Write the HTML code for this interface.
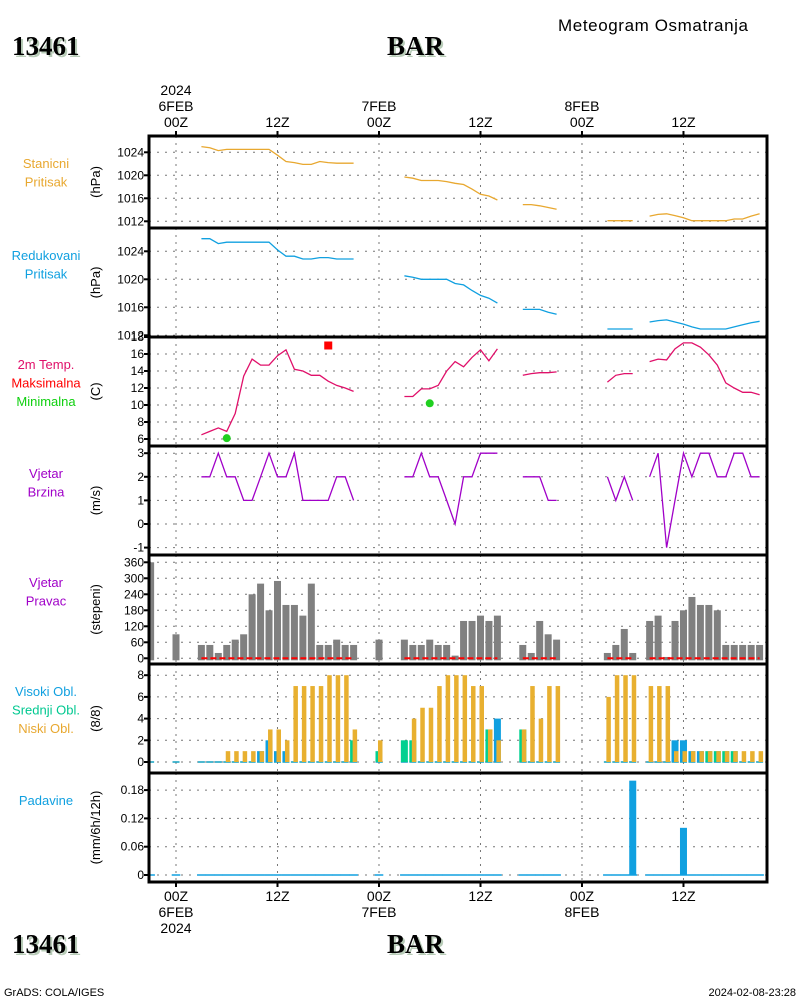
<!DOCTYPE html>
<html><head><meta charset="utf-8"><style>
body{margin:0;background:#fff;width:800px;height:1000px;overflow:hidden}
svg{font-family:"Liberation Sans",sans-serif}
</style></head><body>
<svg id="chart" width="800" height="1000" xmlns="http://www.w3.org/2000/svg">
<rect width="800" height="1000" fill="#fff"/>
<text x="558" y="31" font-size="17" fill="#000" letter-spacing="0.6">Meteogram Osmatranja</text>
<g style="font-family:'Liberation Serif',serif;font-weight:bold;font-size:27px">
<text x="14" y="57" fill="#b8ccb8">13461</text><text x="12" y="55" fill="#000">13461</text>
<text x="389" y="57" fill="#b8ccb8">BAR</text><text x="387" y="55" fill="#000">BAR</text></g>
<g style="font-family:'Liberation Serif',serif;font-weight:bold;font-size:27px">
<text x="14" y="955" fill="#b8ccb8">13461</text><text x="12" y="953" fill="#000">13461</text>
<text x="389" y="955" fill="#b8ccb8">BAR</text><text x="387" y="953" fill="#000">BAR</text></g>
<text x="4" y="996" font-size="11">GrADS: COLA/IGES</text>
<text x="796" y="996" font-size="11" text-anchor="end">2024-02-08-23:28</text>
<g id="layer"></g>
</svg>
<script>
const hours=[-3,0,3,4,5,6,7,8,9,10,11,12,13,14,15,16,17,18,19,20,21,24,27,28,29,30,31,32,33,34,35,36,37,38,41,42,43,44,45,51,52,53,54,56,57,58,59,60,61,62,63,64,65,66,67,68,69];
const n=null;
const stnPres=[n,n,1025.0,1024.8,1024.3,1024.5,1024.5,1024.5,1024.5,1024.5,1024.5,1023.5,1022.4,1022.2,1021.9,1021.9,1022.4,1022.2,1022.1,1022.1,1022.1,n,1019.7,1019.5,1019.1,1019.1,1019.1,1018.9,1018.6,1018.4,1017.6,1016.7,1016.4,1015.7,1014.9,1014.9,1014.7,1014.4,1014.1,1012.1,1012.1,1012.1,1012.1,1012.9,1013.2,1013.3,1013.0,1012.6,1012.1,1012.1,1012.1,1012.1,1012.1,1012.4,1012.4,1012.9,1013.3];
const redPres=[n,n,1025.8,1025.8,1025.1,1025.3,1025.3,1025.3,1025.3,1025.3,1025.3,1024.2,1023.3,1023.3,1022.9,1022.9,1023.1,1023.1,1022.9,1022.9,1022.9,n,1020.5,1020.3,1020.0,1020.0,1020.0,1020.0,1019.4,1019.2,1018.4,1017.7,1017.3,1016.6,1015.7,1015.7,1015.7,1015.3,1015.0,1012.9,1012.9,1012.9,1012.9,1013.9,1014.1,1014.2,1013.9,1013.6,1013.2,1012.9,1012.9,1012.9,1012.9,1013.2,1013.5,1013.8,1014.0];
const temp=[n,n,6.5,6.9,7.3,6.9,9.0,13.4,15.4,14.7,14.7,15.8,16.5,14.2,14.0,13.5,13.5,12.8,12.3,12.0,11.6,n,11.0,11.0,11.9,11.9,12.3,14.0,15.1,14.5,15.6,16.5,15.2,16.6,13.5,13.7,13.8,13.8,13.9,12.7,13.5,13.7,13.7,15.1,15.4,15.3,16.6,17.3,17.3,16.8,15.9,14.7,12.6,12.0,11.5,11.5,11.2];
const maxT=[{h:18,v:17.0}];
const minT=[{h:6,v:6.1},{h:30,v:10.2}];
const wind=[n,n,2,2,3,2,2,1,1,2,3,2,2,3,1,1,1,1,2,2,1,n,2,2,3,2,2,1,0,2,2,3,3,3,2,2,2,1,1,2,1,2,1,2,3,-1,1,3,2,3,3,2,2,3,3,2,2];
const dir=[360,90,50,50,20,50,70,90,240,280,180,290,200,200,160,280,50,50,70,50,50,70,70,50,50,70,50,50,10,140,140,160,140,160,50,20,140,90,70,20,50,110,20,140,160,5,140,180,230,200,200,180,50,50,50,50,50];
const lowCl=[0,0,0,0,0,1,1,1,1,1,3,3,2,7,7,7,7,8,8,8,3,2,0,4,5,5,7,8,8,8,7,7,3,2,3,7,4,7,7,6,8,8,8,7,7,7,1,1,1,1,1,1,1,1,1,1,1];
const midCl=[0,0,0,0,0,0,0,0,0,0,0,0,0,0,0,0,0,0,0,0,2,1,2,2,0,0,0,0,0,0,0,0,3,0,3,0,0,0,0,0,0,0,0,0,0,0,0,0,0,0,1,1,1,1,0,0,0];
const highCl=[0,0,0,0,0,0,0,0,0,1,2,1,1,0,0,0,0,0,0,0,0,0,0,0,0,0,0,0,0,0,0,0,1,4,0,0,0,0,0,0,0,0,0,0,0,0,2,2,1,1,0,0,0,0,0,0,0];
const precip=[0,0,0,0,0,0,0,0,0,0,0,0,0,0,0,0,0,0,0,0,0,0,0,0,0,0,0,0,0,0,0,0,0,0,0,0,0,0,0,0,0,0,0.2,0,0,0,0,0.1,0,0,0,0,0,0,0,0,0];
const tickP1=[1012,1016,1020,1024];
const tickP2=[1012,1016,1020,1024];
const tickT=[6,8,10,12,14,16,18];
const tickW=[-1,0,1,2,3];
const tickD=[0,60,120,180,240,300,360];
const tickC=[0,2,4,6,8];
const tickR=[0,0.06,0.12,0.18];
const timeTicks=[0,12,24,36,48,60];
const timeLabels=["00Z","12Z","00Z","12Z","00Z","12Z"];
const dayLabels=[{h:0,t:"6FEB"},{h:24,t:"7FEB"},{h:48,t:"8FEB"}];

const NS="http://www.w3.org/2000/svg";
const L=document.getElementById('layer');
const X0=149,X1=767;
const x=h=>176+h*8.458;
function el(tag,attrs,parent){const e=document.createElementNS(NS,tag);for(const k in attrs)e.setAttribute(k,attrs[k]);(parent||L).appendChild(e);return e;}
const panels=[
 {id:'station-pressure',top:136,bot:228,y:v=>152.3+(1024-v)*5.75,ticks:tickP1,unit:'(hPa)',labels:[['Stanicni','#e8a830'],['Pritisak','#e8a830']]},
 {id:'reduced-pressure',top:228,bot:337,y:v=>251.3+(1024-v)*7,ticks:tickP2,unit:'(hPa)',labels:[['Redukovani','#10a0e0'],['Pritisak','#10a0e0']]},
 {id:'temperature',top:337,bot:446,y:v=>439-(v-6)*8.5,ticks:tickT,unit:'(C)',labels:[['2m Temp.','#e0106a'],['Maksimalna','#ff0000'],['Minimalna','#10d010']]},
 {id:'wind-speed',top:446,bot:555,y:v=>524-v*23.6,ticks:tickW,unit:'(m/s)',labels:[['Vjetar','#a000c8'],['Brzina','#a000c8']]},
 {id:'wind-direction',top:555,bot:664,y:v=>658.3-v*0.2667,ticks:tickD,unit:'(stepeni)',labels:[['Vjetar','#a000c8'],['Pravac','#a000c8']]},
 {id:'clouds',top:664,bot:773,y:v=>762-v*10.85,ticks:tickC,unit:'(8/8)',labels:[['Visoki Obl.','#10a0e0'],['Srednji Obl.','#00c890'],['Niski Obl.','#e8a830']]},
 {id:'precipitation',top:773,bot:882,y:v=>875-v*471.7,ticks:tickR,unit:'(mm/6h/12h)',labels:[['Padavine','#10a0e0']]}
];
const defs=el('defs',{});
panels.forEach((p,i)=>{
 const cp=el('clipPath',{id:'cp'+i},defs);el('rect',{x:X0,y:p.top,width:X1-X0,height:p.bot-p.top},cp);
 const g=el('g',{});
 
 
 p.g=el('g',{'clip-path':'url(#cp'+i+')'},g);
 timeTicks.forEach(h=>{el('line',{x1:x(h),x2:x(h),y1:p.top,y2:p.bot,stroke:'#777','stroke-dasharray':'2,5'},p.g);});
 p.ticks.forEach(v=>{const yy=p.y(v);
  el('line',{x1:X0,x2:X1,y1:yy,y2:yy,stroke:'#777','stroke-dasharray':'2,6'},p.g);
  el('line',{x1:X0-5,x2:X0,y1:yy,y2:yy,stroke:'#000','stroke-width':2},g);
  if(yy>p.top-6&&yy<p.bot+6){const t=el('text',{x:X0-5,y:yy+4,'font-size':12,'text-anchor':'end'},g);t.textContent=String(v);
   
   }
 });
 const u=el('text',{x:0,y:0,'font-size':13,'text-anchor':'middle',transform:`translate(100,${(p.top+p.bot)/2}) rotate(-90)`},g);u.textContent=p.unit;
 
 
 p.labels.forEach((lb,j)=>{const t=el('text',{x:46,y:p.top+32+j*18.5,'font-size':13,'text-anchor':'middle',fill:lb[1]},g);t.textContent=lb[0];
  
  });
});
function line(p,vals,color,name){
 let d='',prev=null;
 hours.forEach((h,i)=>{const v=vals[i];if(v==null){prev=null;return;}
  const cmd=(prev!=null&&h-prev===1)?'L':'M';d+=cmd+x(h).toFixed(1)+','+p.y(v).toFixed(1);prev=h;});
 const e=el('path',{d:d,fill:'none',stroke:color,'stroke-width':1.3},p.g);
 
 
}
line(panels[0],stnPres,'#e8a830','station-pressure-line');
line(panels[1],redPres,'#10a0e0','reduced-pressure-line');
line(panels[2],temp,'#e0106a','temperature-line');
line(panels[3],wind,'#a000c8','wind-speed-line');
maxT.forEach(m=>{const r=el('rect',{x:x(m.h)-4,y:panels[2].y(m.v)-4,width:8,height:8,fill:'#f00'},panels[2].g);
 
 });
minT.forEach(m=>{const c=el('circle',{cx:x(m.h),cy:panels[2].y(m.v),r:4,fill:'#20d020'},panels[2].g);
 
 });
const pd=panels[4];
hours.forEach((h,i)=>{const v=dir[i];if(v==null)return;const y0=pd.y(0),yv=pd.y(v);
 const r=el('rect',{x:x(h)-3.5,y:yv,width:7,height:Math.max(0.5,y0-yv+2),fill:'#808080'},pd.g);
 
 });
{let d='',prev=null;hours.forEach((h,i)=>{if(h<3){prev=null;return;}if(temp[i]==null){prev=null;return;}
 if(prev!=null&&h-prev===1)d+='L'+x(h).toFixed(1)+','+pd.y(0);else d+='M'+x(h).toFixed(1)+','+pd.y(0);prev=h;});
 const e=el('path',{d:d,stroke:'#f00','stroke-width':2,'stroke-dasharray':'6,3',fill:'none'},pd.g);
 
 }
const pc=panels[5];
hours.forEach((h,i)=>{const y0=pc.y(0);
 el('line',{x1:x(h)-3.5,x2:x(h)+3.5,y1:y0,y2:y0,stroke:'#10a0c0','stroke-width':1.5},pc.g);
 [[highCl[i],'#10a0e0',-3.5,7,'high-cloud-bar'],[midCl[i],'#00d090',-3.5,7,'mid-cloud-bar'],[lowCl[i],'#e8b030',-1,4.5,'low-cloud-bar']].forEach(s=>{
  if(!s[0])return;const yv=pc.y(s[0]);
  const r=el('rect',{x:x(h)+s[2],y:yv,width:s[3],height:y0-yv,fill:s[1]},pc.g);
  
  });
});
const pr=panels[6];
hours.forEach((h,i)=>{const y0=pr.y(0),v=precip[i];
 el('line',{x1:x(h)-4.3,x2:x(h)+4.3,y1:y0,y2:y0,stroke:'#10a0e0','stroke-width':1.5},pr.g);
 if(v>0){const yv=pr.y(v);const r=el('rect',{x:x(h)-3.5,y:yv,width:7,height:y0-yv,fill:'#10a0e0'},pr.g);
  
  }});
panels.forEach(p=>{el('rect',{x:X0,y:p.top,width:X1-X0,height:p.bot-p.top,fill:'none',stroke:'#000','stroke-width':3});});
timeTicks.forEach((h,i)=>{
 el('line',{x1:x(h),x2:x(h),y1:131,y2:136,stroke:'#000','stroke-width':2});
 el('line',{x1:x(h),x2:x(h),y1:882,y2:887,stroke:'#000','stroke-width':2});
 const t=el('text',{x:x(h),y:127,'font-size':14,'text-anchor':'middle'});t.textContent=timeLabels[i];
 
 
 const b=el('text',{x:x(h),y:901,'font-size':14,'text-anchor':'middle'});b.textContent=timeLabels[i];
 
 
});
dayLabels.forEach(d=>{
 const t=el('text',{x:x(d.h),y:111,'font-size':14,'text-anchor':'middle'});t.textContent=d.t;
 
 
 const b=el('text',{x:x(d.h),y:917,'font-size':14,'text-anchor':'middle'});b.textContent=d.t;
 
 
});
{const t=el('text',{x:x(0),y:95,'font-size':14,'text-anchor':'middle'});t.textContent='2024';
 
 
 const b=el('text',{x:x(0),y:933,'font-size':14,'text-anchor':'middle'});b.textContent='2024';
 
 }
</script>
</body></html>
